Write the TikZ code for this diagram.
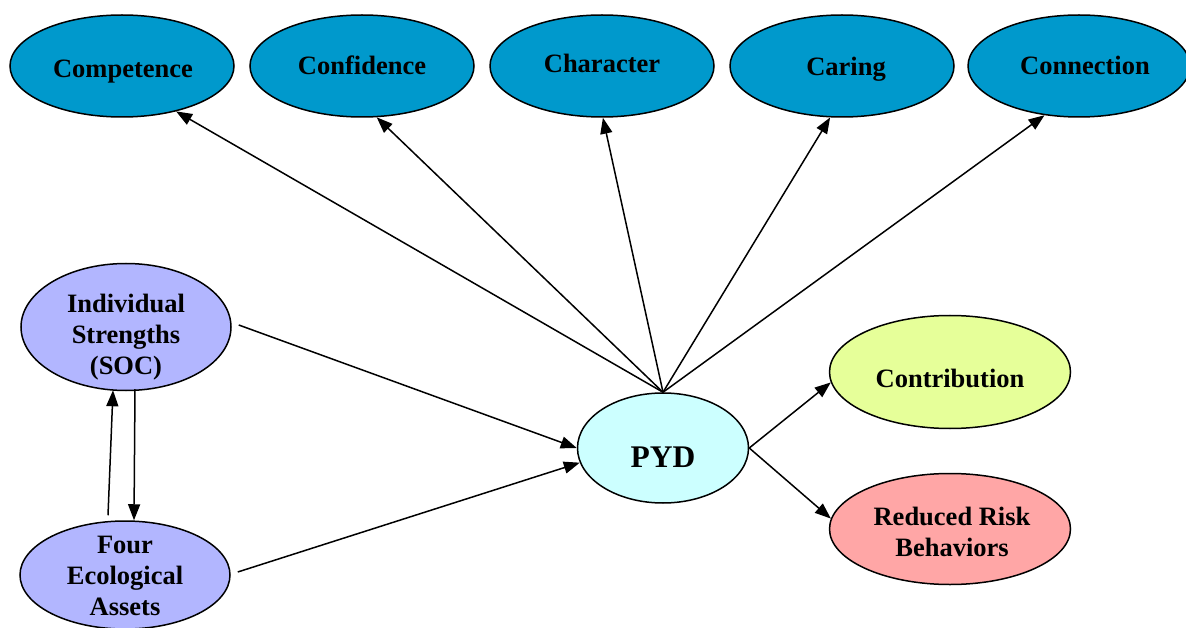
\documentclass[tikz,border=0pt]{standalone}
\usepackage{fontspec}
\setmainfont{Liberation Serif}
\usetikzlibrary{shapes.geometric,arrows.meta}
\definecolor{topblue}{RGB}{0,153,204}
\definecolor{lavc}{RGB}{178,182,255}
\definecolor{pydc}{RGB}{204,255,255}
\definecolor{contrc}{RGB}{230,255,153}
\definecolor{redc}{RGB}{255,166,166}
\tikzset{
  oval/.style={ellipse,draw=black,line width=1.5pt,inner sep=0pt},
  topoval/.style={oval,fill=topblue,minimum width=224pt,minimum height=102pt},
  lbl/.style={inner sep=0pt,align=center,font=\fontsize{26.5}{31}\selectfont\bfseries},
  arr/.style={line width=1.5pt,-{Triangle[length=16pt,width=12pt]}}
}
\begin{document}
\begin{tikzpicture}[x=1pt,y=-1pt]
\useasboundingbox (0,0) rectangle (1186,628);
\begin{scope}
\clip (0,0) rectangle (1186,628);
\node[topoval] (comp) at (122,66) {};
\node[topoval] (conf) at (362,66) {};
\node[topoval] (char) at (602,66) {};
\node[topoval] (car) at (842,66) {};
\node[topoval,minimum width=222pt] (conn) at (1079,66) {};
\node[oval,fill=lavc,minimum width=210pt,minimum height=127pt] (ind) at (126,327) {};
\node[oval,fill=lavc,minimum width=210pt,minimum height=108pt] (four) at (125,575) {};
\node[oval,fill=pydc,minimum width=171pt,minimum height=110pt] (pyd) at (663,448) {};
\node[oval,fill=contrc,minimum width=241pt,minimum height=113pt] (contr) at (950,372) {};
\node[oval,fill=redc,minimum width=241pt,minimum height=111pt] (red) at (950,529) {};
\end{scope}
\node[lbl,anchor=base] (compt) at (123,78) {Competence};
\node[lbl,anchor=base] (conft) at (362,75) {Confidence};
\node[lbl,anchor=base] (chart) at (602,73) {Character};
\node[lbl,anchor=base] (cart) at (846,76) {Caring};
\node[lbl,anchor=base] (connt) at (1085,75) {Connection};
\node[lbl] (indt) at (126,337) {Individual\\Strengths\\(SOC)};
\node[lbl] (fourt) at (125,576) {Four\\Ecological\\Assets};
\node[lbl,anchor=base,font=\fontsize{31.5}{34}\selectfont\bfseries] (pydt) at (663,467) {PYD};
\node[lbl,anchor=base] (contrt) at (950,387) {Contribution};
\node[lbl] (redt) at (952,532) {Reduced Risk\\Behaviors};
\draw[arr] (pyd.north) -- (comp.320);
\draw[arr] (pyd.north) -- (conf.286);
\draw[arr] (pyd.north) -- (char.271);
\draw[arr] (pyd.north) -- (car.257);
\draw[arr] (pyd.north) -- (conn.235);
\draw[arr] ([xshift=7pt,yshift=2pt]ind.east) -- (pyd.west);
\draw[arr] ([xshift=7pt,yshift=3pt]four.east) -- (pyd.190);
\draw[arr] (pyd.east) -- (contr.185);
\draw[arr] (pyd.east) -- (red.175);
\draw[arr] ([xshift=-17pt,yshift=5pt]four.north) -- ([xshift=-13pt,yshift=1pt]ind.south);
\draw[arr] ([xshift=9pt,yshift=2pt]ind.south) -- ([xshift=9pt]four.north);
\end{tikzpicture}
\end{document}
